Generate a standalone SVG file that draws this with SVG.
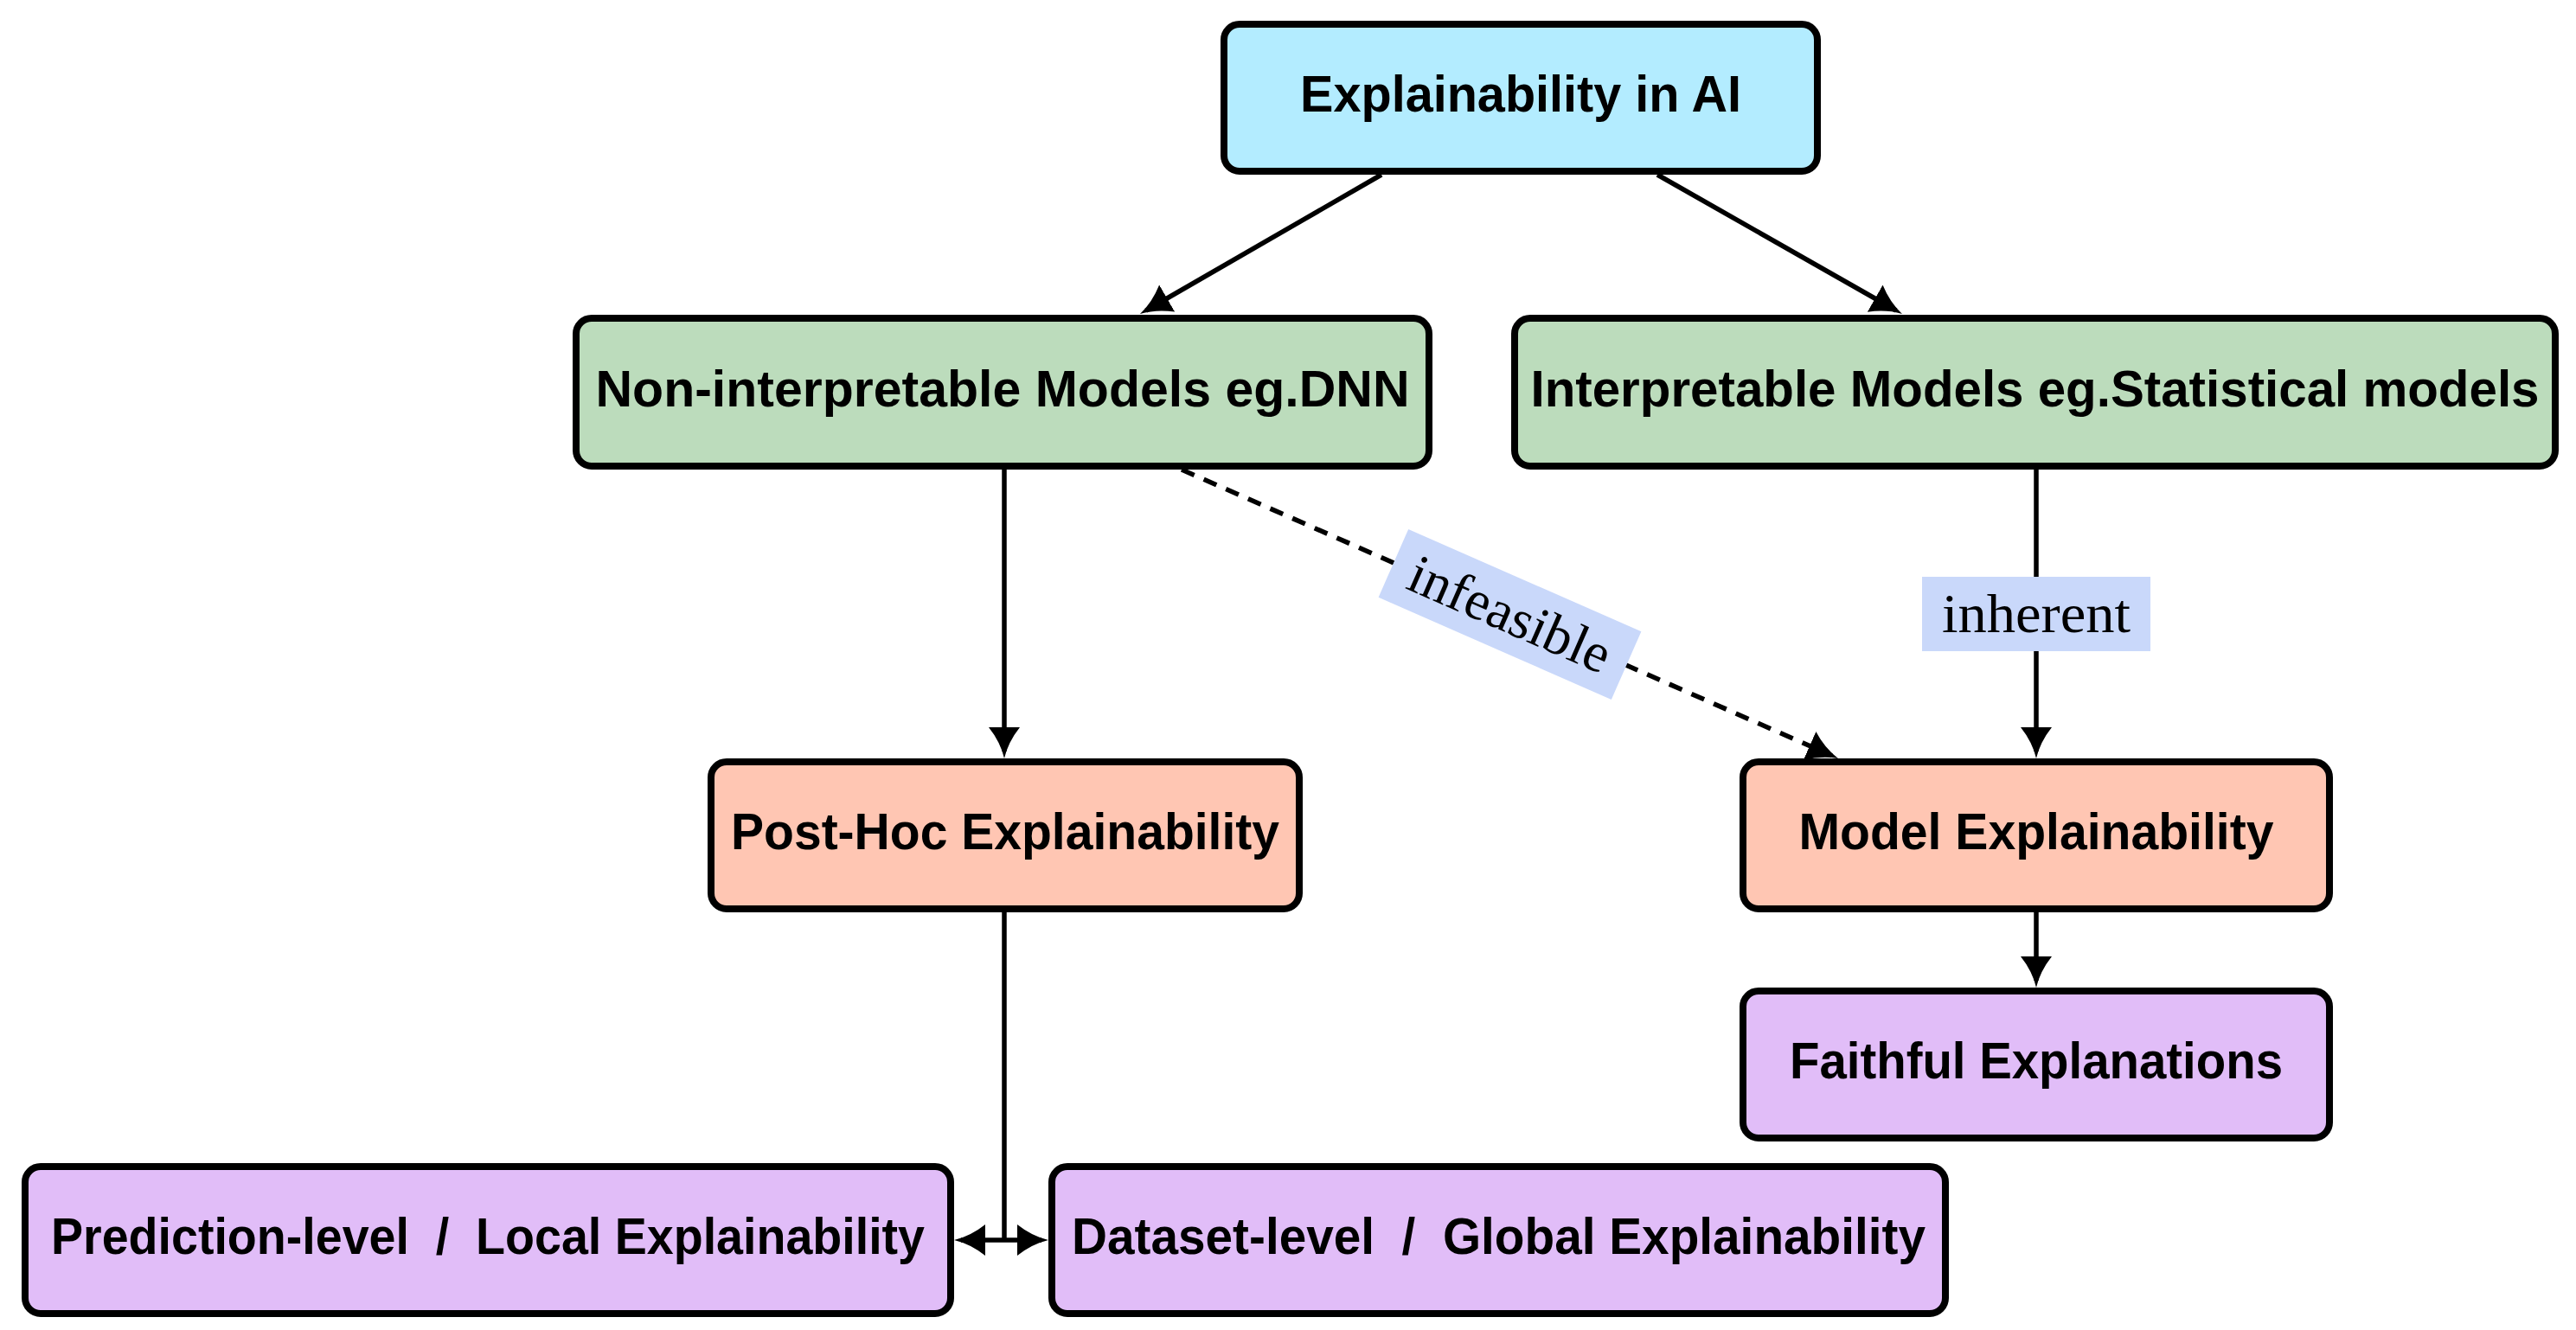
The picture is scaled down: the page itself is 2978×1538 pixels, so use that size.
<svg xmlns="http://www.w3.org/2000/svg" width="2978" height="1538" viewBox="0 0 2978 1538">
<style>
.box{stroke:#000;stroke-width:8;}
.cyan{fill:#b3ecff;}
.green{fill:#bcdcbc;}
.salmon{fill:#ffc6b3;}
.purple{fill:#e1bdf8;}
.t{font-family:"Liberation Sans",Arial,sans-serif;font-weight:bold;font-size:60px;text-anchor:middle;fill:#000;}
.pre{white-space:pre;}
.edge{fill:none;stroke:#000;stroke-width:5.5;}
.dash{stroke-dasharray:16 12;}
.lbl{fill:#c9d8fa;}
.lt{font-family:"Liberation Serif","Times New Roman",serif;font-size:64px;text-anchor:middle;fill:#000;}
</style>
<defs>
<marker id="arr" markerUnits="userSpaceOnUse" viewBox="0 0 36 36" markerWidth="36" markerHeight="36" refX="28" refY="18" orient="auto">
<path d="M36,18 Q17,13.5 0,0 L0,36 Q17,22.5 36,18 Z" fill="#000"/>
</marker>
</defs>
<rect width="2978" height="1538" fill="#fff"/>
<g id="connectors">
<path class="edge" d="M1597,202 L1324.9,359" marker-end="url(#arr)"/>
<path class="edge" d="M1916,202 L2192,359" marker-end="url(#arr)"/>
<path class="edge" d="M1161,543 L1161,869" marker-end="url(#arr)"/>
<path class="edge dash" d="M1366,543 L2117.7,873.8" marker-end="url(#arr)"/>
<path class="edge" d="M2354,543 L2354,869" marker-end="url(#arr)"/>
<path class="edge" d="M2354,1055 L2354,1134" marker-end="url(#arr)"/>
<path class="edge" d="M1161,1055 L1161,1434"/>
<path class="edge" d="M1161,1434 L1111,1434" marker-end="url(#arr)"/>
<path class="edge" d="M1161,1434 L1204,1434" marker-end="url(#arr)"/>
<g transform="translate(1745.5,710.5) rotate(23.69)">
<rect class="lbl" x="-147" y="-43" width="294" height="86"/>
<text class="lt" x="0" y="21">infeasible</text>
</g>
<rect class="lbl" x="2222" y="667" width="264" height="86"/>
<text class="lt" x="2354" y="731" textLength="218" lengthAdjust="spacingAndGlyphs">inherent</text>
</g>
<g id="n-top">
<rect class="box cyan" x="1415" y="28" width="686" height="170" rx="18"/>
<text class="t" x="1758" y="129" textLength="510" lengthAdjust="spacingAndGlyphs">Explainability in AI</text>
</g>
<g id="n-nonint">
<rect class="box green" x="666" y="368" width="986" height="171" rx="18"/>
<text class="t" x="1159" y="470" textLength="941" lengthAdjust="spacingAndGlyphs">Non-interpretable Models eg.DNN</text>
</g>
<g id="n-interp">
<rect class="box green" x="1751" y="368" width="1203" height="171" rx="18"/>
<text class="t" x="2352.5" y="470" textLength="1166" lengthAdjust="spacingAndGlyphs">Interpretable Models eg.Statistical models</text>
</g>
<g id="n-posthoc">
<rect class="box salmon" x="822" y="881" width="680" height="170" rx="18"/>
<text class="t" x="1162" y="982" textLength="634" lengthAdjust="spacingAndGlyphs">Post-Hoc Explainability</text>
</g>
<g id="n-model">
<rect class="box salmon" x="2015" y="881" width="678" height="170" rx="18"/>
<text class="t" x="2354" y="982" textLength="549" lengthAdjust="spacingAndGlyphs">Model Explainability</text>
</g>
<g id="n-faithful">
<rect class="box purple" x="2015" y="1146" width="678" height="170" rx="18"/>
<text class="t" x="2354" y="1247" textLength="570" lengthAdjust="spacingAndGlyphs">Faithful Explanations</text>
</g>
<g id="n-pred">
<rect class="box purple" x="29" y="1349" width="1070" height="170" rx="18"/>
<text class="t pre" x="564" y="1450" textLength="1010" lengthAdjust="spacingAndGlyphs">Prediction-level  /  Local Explainability</text>
</g>
<g id="n-dataset">
<rect class="box purple" x="1216" y="1349" width="1033" height="170" rx="18"/>
<text class="t pre" x="1732.5" y="1450" textLength="987" lengthAdjust="spacingAndGlyphs">Dataset-level  /  Global Explainability</text>
</g>
</svg>
